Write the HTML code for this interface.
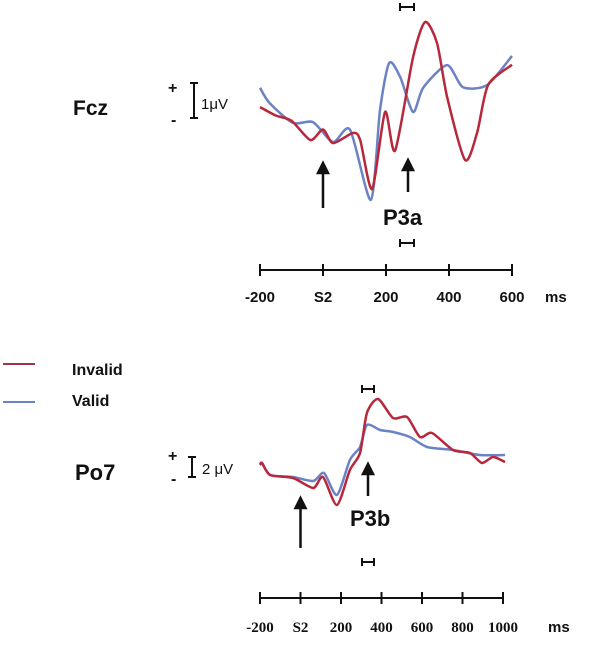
<!DOCTYPE html>
<html><head><meta charset="utf-8"><style>
body{margin:0;background:#fff;width:600px;height:648px;overflow:hidden}
svg{display:block}
text{font-family:"Liberation Sans",sans-serif;fill:#111}
</style></head><body>
<svg id="chart" width="600" height="648">
<g id="static">
<text x="73" y="115" font-size="21" font-weight="bold">Fcz</text>
<text x="168" y="93" font-size="16" font-weight="bold">+</text>
<text x="171" y="125" font-size="16" font-weight="bold">-</text>
<path d="M190 83H198M194 83V118M190 118H198" stroke="#111" stroke-width="2" fill="none"/>
<text x="201" y="109" font-size="15">1μV</text>

<line x1="3" y1="364" x2="35" y2="364" stroke="#a0324a" stroke-width="2"/>
<text x="72" y="375" font-size="16" font-weight="bold">Invalid</text>
<line x1="3" y1="402" x2="35" y2="402" stroke="#6b82c4" stroke-width="2"/>
<text x="72" y="406" font-size="16" font-weight="bold">Valid</text>

<text x="75" y="480" font-size="22" font-weight="bold">Po7</text>
<text x="168" y="461" font-size="16" font-weight="bold">+</text>
<text x="171" y="484" font-size="16" font-weight="bold">-</text>
<path d="M188 457H196M192 457V477M188 477H196" stroke="#111" stroke-width="2" fill="none"/>
<text x="202" y="474" font-size="15">2 μV</text>
</g>
</svg>
<script>
// Fcz data (ms, µV)
const fczRedT=[-200,-150,-100,-40,0,32,95,118,156,197,229,286,324,362,394,451,489,524,600];
const fczRedV=[-0.06,-0.3,-0.45,-1.0,-0.7,-1.09,-0.8,-1.0,-2.4,-0.2,-1.3,1.37,2.37,1.77,0.23,-1.57,-0.8,0.57,1.15];
const fczBlueT=[-200,-170,-96,-32,32,86,152,181,210,245,286,318,394,444,521,600];
const fczBlueV=[0.49,0.06,-0.51,-0.49,-1.06,-0.71,-2.71,-0.14,1.2,0.8,-0.2,0.49,1.14,0.51,0.57,1.4];
// Po7 data
const poRedT=[-200,-190,-150,-37,63,111,180,244,294,328,383,457,526,590,649,753,837,896,951,1010];
const poRedV=[0,0.2,-1.0,-1.3,-2.3,-1.2,-4.0,-0.5,1.2,5.2,6.6,4.7,4.8,2.8,3.2,1.5,1.2,0.2,0.8,0.3];
const poBlueT=[-200,-190,-150,-37,63,116,180,244,294,328,393,457,540,625,753,886,1010];
const poBlueV=[0,0.2,-1.0,-1.2,-1.6,-0.8,-3.0,0.5,1.8,4.0,3.5,3.3,2.8,1.8,1.5,1.0,1.0];
const fczTicks=["-200","S2","200","400","600"], fczTickMs=[-200,0,200,400,600];
const poTicks=["-200","S2","200","400","600","800","1000"], poTickMs=[-200,0,200,400,600,800,1000];

const NS="http://www.w3.org/2000/svg", svg=document.getElementById('chart');
function el(t,a){const e=document.createElementNS(NS,t);for(const k in a)e.setAttribute(k,a[k]);svg.appendChild(e);return e;}
const fx=t=>260+(t+200)*252/800, fy=v=>105-v*35;
const px=t=>260+(t+200)*243/1200, py=v=>465-v*10;
function smooth(T,V,X,Y){const p=T.map((t,i)=>[X(t),Y(V[i])]);let d=`M${p[0][0]},${p[0][1]}`;const k=8;
 for(let i=0;i<p.length-1;i++){const p0=p[i-1]||p[i],p1=p[i],p2=p[i+1],p3=p[i+2]||p2;
  d+=` C${p1[0]+(p2[0]-p0[0])/k},${p1[1]+(p2[1]-p0[1])/k} ${p2[0]-(p3[0]-p1[0])/k},${p2[1]-(p3[1]-p1[1])/k} ${p2[0]},${p2[1]}`;}return d;}
let e;
e=el('path',{d:smooth(fczBlueT,fczBlueV,fx,fy),stroke:'#6b82c4','stroke-width':2.5,fill:'none'});


e=el('path',{d:smooth(fczRedT,fczRedV,fx,fy),stroke:'#b8283c','stroke-width':2.5,fill:'none'});


e=el('path',{d:smooth(poBlueT,poBlueV,px,py),stroke:'#6b82c4','stroke-width':2.5,fill:'none'});


e=el('path',{d:smooth(poRedT,poRedV,px,py),stroke:'#b8283c','stroke-width':2.5,fill:'none'});



function axis(ms,labels,X,y,ly,name,font){
 e=el('line',{x1:X(ms[0]),y1:y,x2:X(ms[ms.length-1]),y2:y,stroke:'#111','stroke-width':2});
 
 
 ms.forEach((m,i)=>{
  e=el('line',{x1:X(m),y1:y-6,x2:X(m),y2:y+6,stroke:'#111','stroke-width':2});
  
  
  e=el('text',{x:X(m),y:ly,'text-anchor':'middle','font-size':15,'font-weight':'bold',style:'font-family:'+font});
  e.textContent=labels[i];
  
  
 });
}
axis(fczTickMs,fczTicks,fx,270,302,'fcz','"Liberation Sans",sans-serif');
axis(poTickMs,poTicks,px,598,632,'po7','"Liberation Serif",serif');
e=el('text',{x:545,y:302,'font-size':15,'font-weight':'bold'});e.textContent='ms';


e=el('text',{x:548,y:632,'font-size':15,'font-weight':'bold'});e.textContent='ms';



function arrow(x,y1,y2,name){
 e=el('path',{d:`M${x},${y2}V${y1+8}M${x-5},${y1+10}L${x},${y1}L${x+5},${y1+10}Z`,stroke:'#111','stroke-width':2.5,fill:'#111'});
 
 
}
arrow(fx(0),163,208,'fcz-s2-arrow');
arrow(408,160,192,'p3a-arrow');
arrow(px(0),498,548,'po7-s2-arrow');
arrow(368,464,496,'p3b-arrow');
function bracket(x1,x2,y,name){
 e=el('path',{d:`M${x1},${y-4}V${y+4}M${x1},${y}H${x2}M${x2},${y-4}V${y+4}`,stroke:'#111','stroke-width':2,fill:'none'});
 
 
}
bracket(400,414,7,'p3a-window-top');
bracket(400,414,243,'p3a-window-bottom');
bracket(362,374,389,'p3b-window-top');
bracket(362,374,562,'p3b-window-bottom');
e=el('text',{x:383,y:225,'font-size':22,'font-weight':'bold'});e.textContent='P3a';


e=el('text',{x:350,y:526,'font-size':22,'font-weight':'bold'});e.textContent='P3b';


</script>
</body></html>
